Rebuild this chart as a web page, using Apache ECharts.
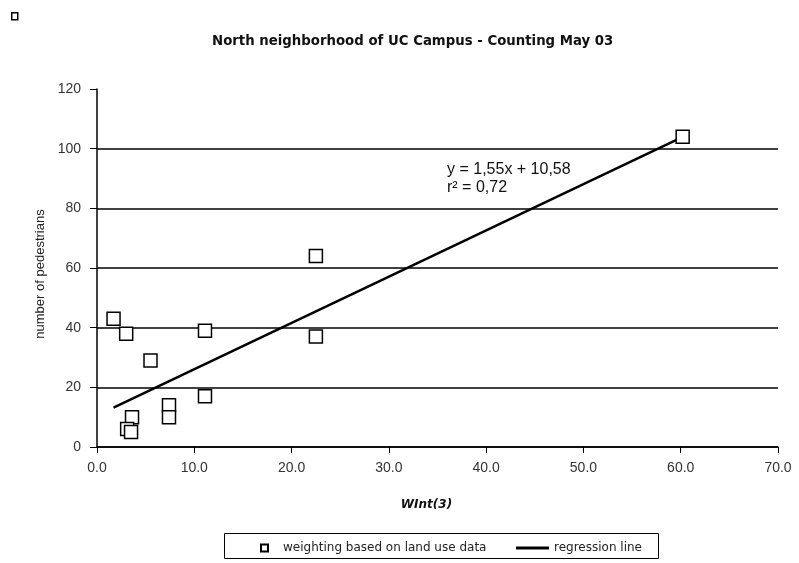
<!DOCTYPE html>
<html>
<head>
<meta charset="utf-8">
<script src="https://cdn.jsdelivr.net/npm/echarts@6/dist/echarts.min.js"></script>
<style>
  html, body { margin: 0; padding: 0; background: #fff; }
  #main { width: 799px; height: 563px; }
</style>
</head>
<body>
<div id="main"></div>
<script>
// values
var countX = [1.7, 3.0, 3.6, 3.1, 3.5, 5.5, 7.4, 7.4, 11.1, 11.1, 22.5, 22.5, 60.2];
var countY = [43, 38, 10, 6, 5, 29, 14, 10, 39, 17, 64, 37, 104];
var regressionX = [1.7, 60.0];
var regressionY = [13.2, 103.6];
var yTicks = [0, 20, 40, 60, 80, 100, 120];

var points = [];
for (var i = 0; i < countX.length; i++) {
    points.push([countX[i], countY[i]]);
}
var regLine = [];
for (var j = 0; j < regressionX.length; j++) {
    regLine.push([regressionX[j], regressionY[j]]);
}

var wide = '"DejaVu Sans", Verdana, sans-serif';
var arial = '"Liberation Sans", Arial, sans-serif';
// hide the split line at the top (120)
var splitColors = yTicks.map(function (t, k) {
    return k === yTicks.length - 1 ? 'rgba(0,0,0,0)' : '#000';
});

var chart = echarts.init(document.getElementById('main'), null, { renderer: 'canvas' });
chart.setOption({
    animation: false,
    backgroundColor: '#fff',
    textStyle: { fontFamily: arial },
    title: {
        text: 'North neighborhood of UC Campus - Counting May 03',
        left: 207,
        top: 30,
        textStyle: { fontSize: 13.3, fontWeight: 'bold', color: '#111', fontFamily: wide }
    },
    grid: { left: 97, right: 21, top: 89, bottom: 116, containLabel: false },
    xAxis: {
        type: 'value',
        min: 0, max: 70, interval: 10,
        name: 'WInt(3)',
        nameLocation: 'middle',
        nameGap: 52,
        nameTextStyle: {
            fontSize: 12, fontWeight: 'bold', fontStyle: 'italic', color: '#111', fontFamily: wide,
            padding: [0, 22, 0, 0]
        },
        axisLine: { show: true, onZero: false, lineStyle: { color: '#000', width: 1.5 } },
        axisTick: { show: true, inside: false, length: 6, lineStyle: { color: '#000' } },
        axisLabel: {
            margin: 14, fontSize: 14, color: '#333', fontFamily: arial,
            formatter: function (v) { return v.toFixed(1); }
        },
        splitLine: { show: false }
    },
    yAxis: {
        type: 'value',
        min: 0, max: 120, interval: 20,
        name: 'number of pedestrians',
        nameLocation: 'middle',
        nameGap: 50,
        nameTextStyle: { fontSize: 13, color: '#222', fontFamily: arial, padding: [0, 12, 0, 0] },
        axisLine: { show: true, lineStyle: { color: '#000', width: 1.5 } },
        axisTick: { show: true, inside: false, length: 7, lineStyle: { color: '#000' } },
        axisLabel: { margin: 16, fontSize: 14, color: '#333', fontFamily: arial },
        splitLine: { show: true, lineStyle: { color: splitColors, width: 1.5 } }
    },
    legend: [{
        data: [{ name: 'weighting based on land use data', icon: 'rect' }],
        left: 255, top: 537,
        itemWidth: 7, itemHeight: 7,
        textStyle: { fontSize: 12, color: '#222', fontFamily: wide, padding: [0, 0, 0, 10] }
    }, {
        data: [{ name: 'regression line', icon: 'rect' }],
        left: 511, top: 537,
        itemWidth: 33, itemHeight: 3,
        itemStyle: { color: '#000', borderWidth: 0 },
        textStyle: { fontSize: 12, color: '#222', fontFamily: wide }
    }],
    graphic: [
        {
            type: 'rect', left: 222, top: 531,
            shape: { width: 434, height: 25 },
            style: { fill: 'none', stroke: '#000', lineWidth: 1 }
        },
        {
            type: 'rect', left: 11, top: 12,
            shape: { width: 6, height: 7 },
            style: { fill: '#fff', stroke: '#000', lineWidth: 1.5 }
        },
        {
            type: 'text', left: 447, top: 162,
            style: { text: 'y = 1,55x + 10,58', font: '16px ' + arial, fill: '#111' }
        },
        {
            type: 'text', left: 447, top: 180,
            style: { text: 'r\u00b2 = 0,72', font: '16px ' + arial, fill: '#111' }
        }
    ],
    series: [
        {
            name: 'weighting based on land use data',
            type: 'scatter',
            data: points,
            symbol: 'rect',
            symbolSize: 13,
            itemStyle: { color: '#fff', borderColor: '#000', borderWidth: 1.5, opacity: 1 },
            z: 3
        },
        {
            name: 'regression line',
            type: 'line',
            data: regLine,
            symbol: 'none',
            lineStyle: { color: '#000', width: 2.5 },
            itemStyle: { color: '#000' },
            z: 2
        }
    ]
});
</script>
</body>
</html>
